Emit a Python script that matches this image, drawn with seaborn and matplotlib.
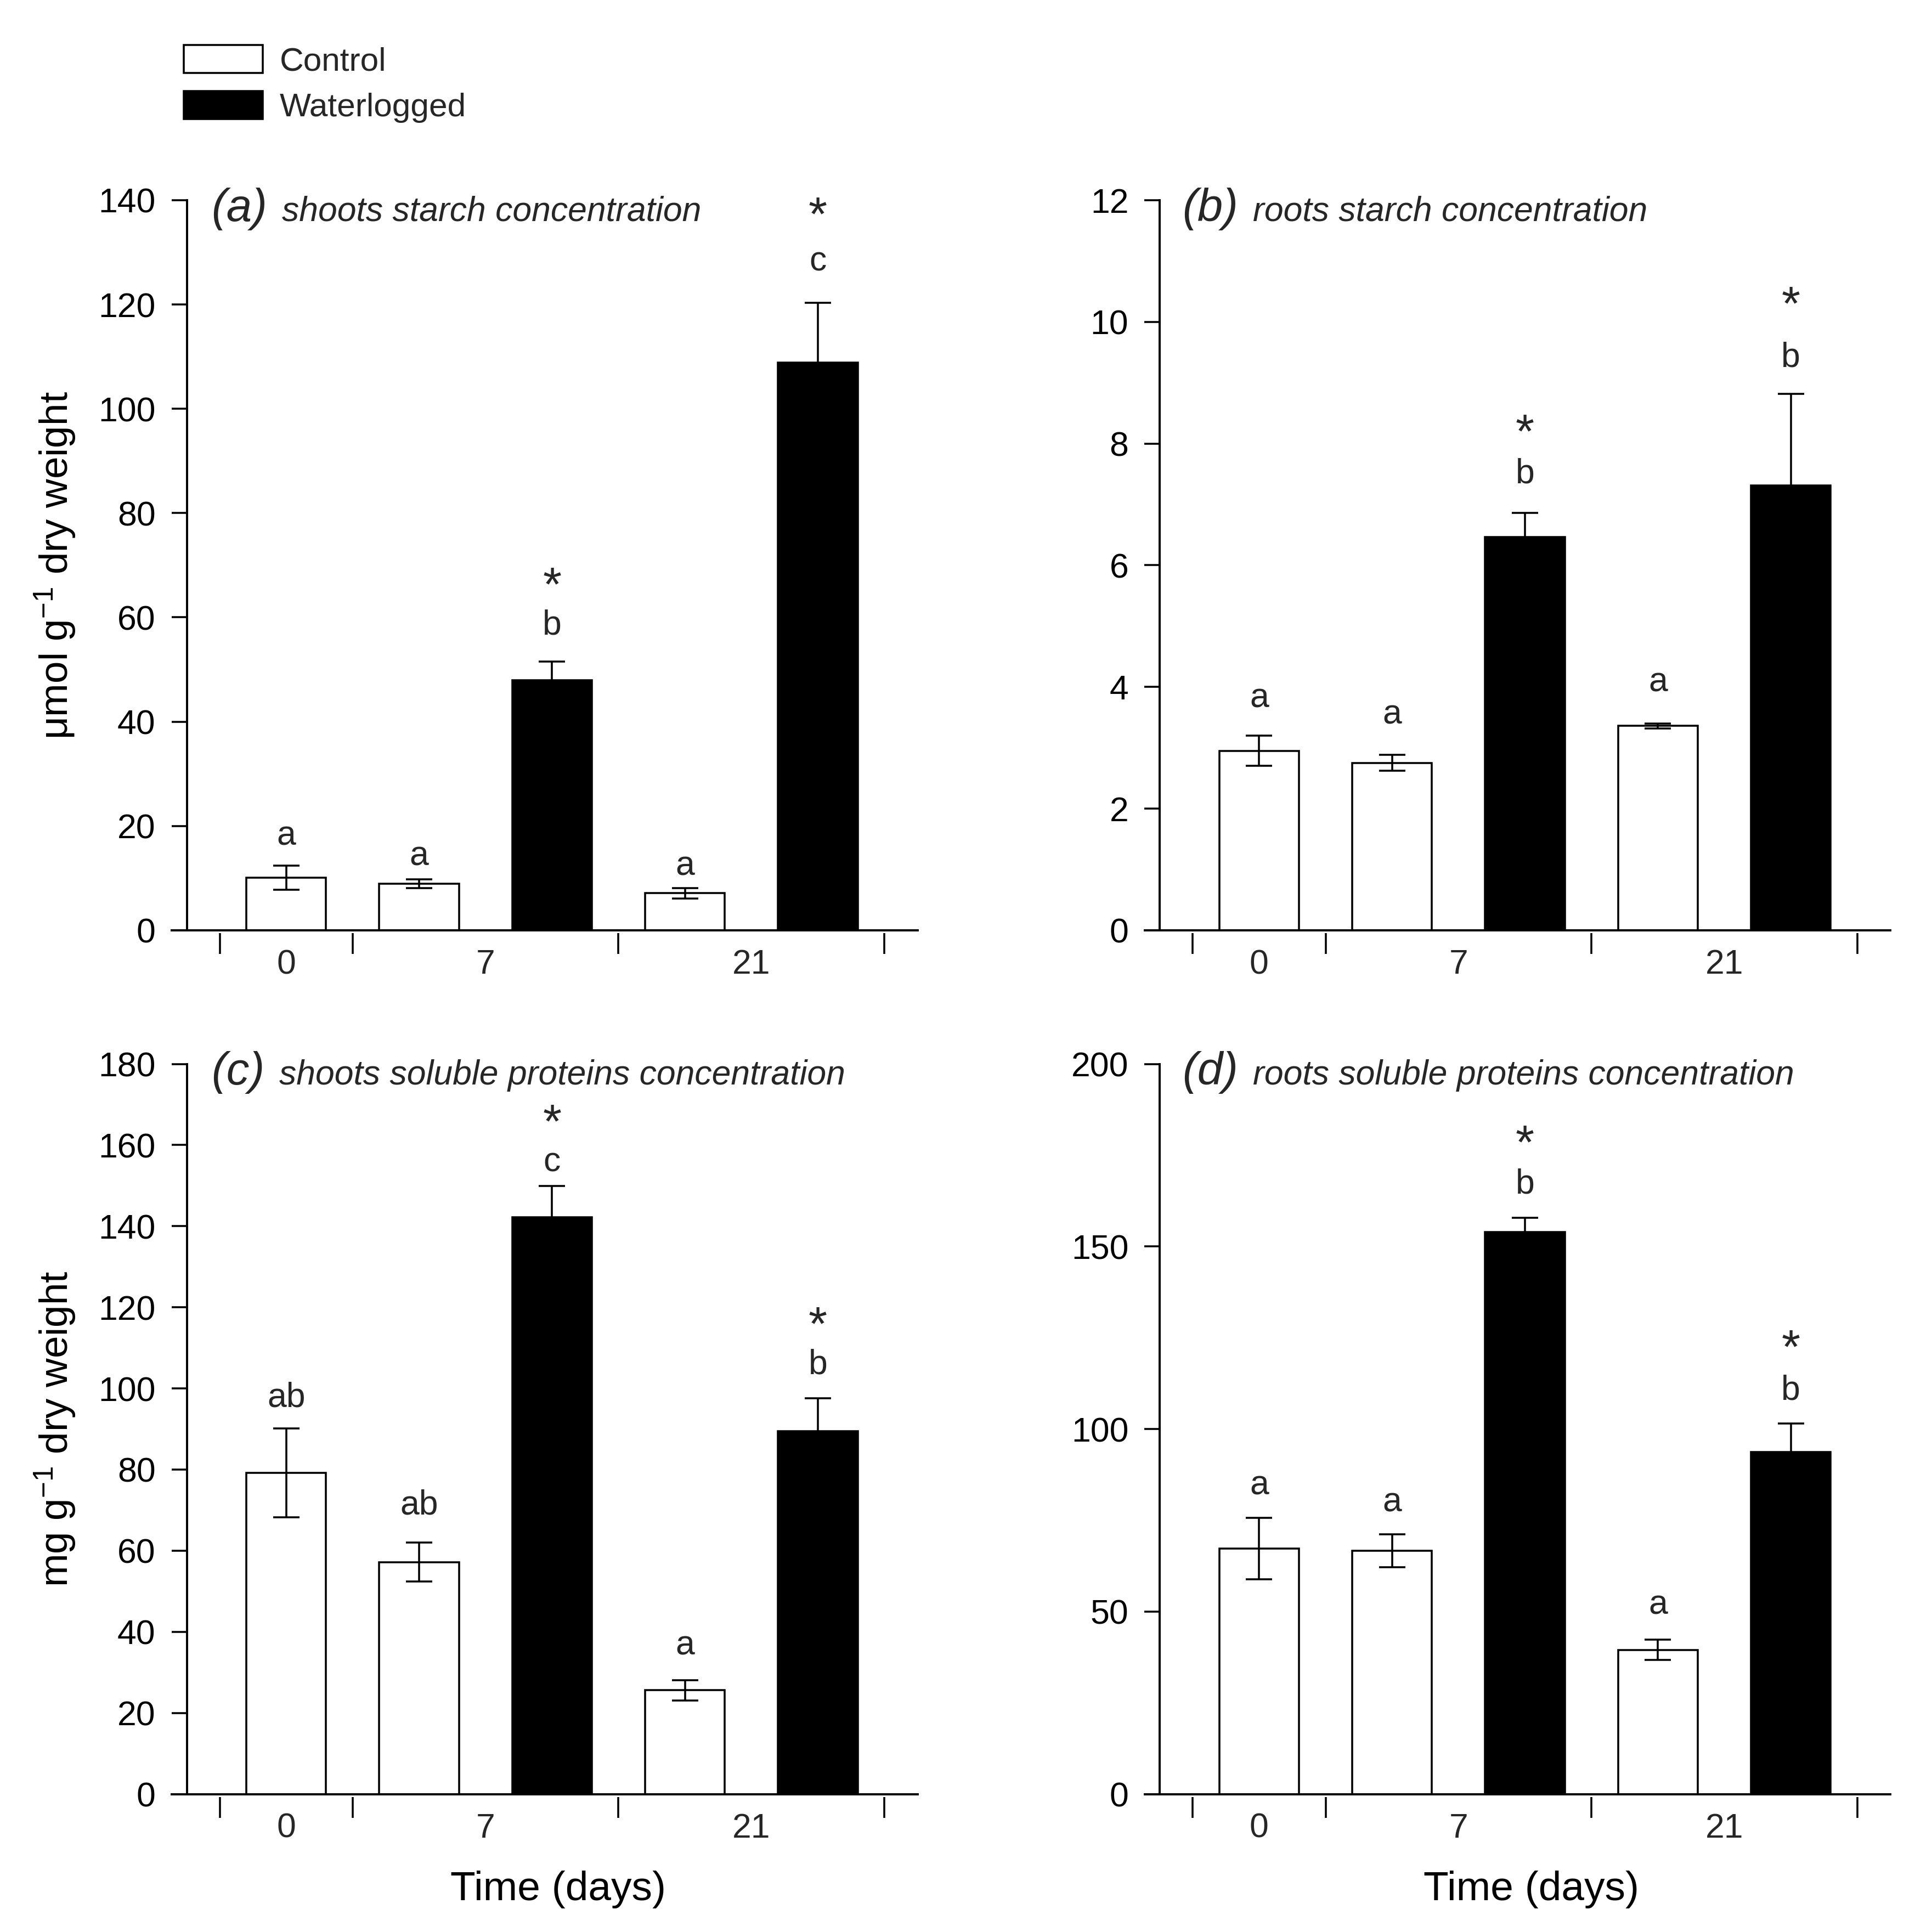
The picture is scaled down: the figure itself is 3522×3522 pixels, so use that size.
import numpy as np
import pandas as pd
import matplotlib
matplotlib.use("Agg")
import matplotlib.pyplot as plt
from matplotlib.patches import Patch
import seaborn as sns

# ---------------- data ----------------
days = ["0", "7", "7", "21", "21"]
treatments = ["Control", "Control", "Waterlogged", "Control", "Waterlogged"]
bar_ids = ["C0", "C7", "W7", "C21", "W21"]
stars = [False, False, True, False, True]

a_mean = [10.1, 8.9, 47.9, 7.1, 108.8]
a_err = [2.3, 0.85, 3.6, 1.0, 11.5]
a_letters = ["a", "a", "b", "a", "c"]

b_mean = [2.95, 2.75, 6.46, 3.36, 7.31]
b_err = [0.25, 0.13, 0.40, 0.04, 1.51]
b_letters = ["a", "a", "b", "a", "b"]

c_mean = [79.2, 57.2, 142.2, 25.6, 89.4]
c_err = [11.0, 4.8, 7.7, 2.5, 8.2]
c_letters = ["ab", "ab", "c", "a", "b"]

d_mean = [67.3, 66.6, 154.0, 39.5, 93.7]
d_err = [8.4, 4.5, 3.9, 2.8, 7.8]
d_letters = ["a", "a", "b", "a", "b"]

panel_tags = ["(a)", "(b)", "(c)", "(d)"]
panel_titles = ["shoots starch concentration", "roots starch concentration",
                "shoots soluble proteins concentration", "roots soluble proteins concentration"]
y_labels = ["\u03bcmol g$^{-1}$ dry weight", None, "mg g$^{-1}$ dry weight", None]
y_ticks = [np.arange(0, 141, 20), np.arange(0, 13, 2), np.arange(0, 181, 20), np.arange(0, 201, 50)]
x_label = "Time (days)"
legend_labels = ["Control", "Waterlogged"]

# ---------------- style ----------------
sns.set_theme(style="white")
plt.rcParams["font.family"] = ["Liberation Sans", "DejaVu Sans"]
plt.rcParams["mathtext.fontset"] = "custom"
plt.rcParams["mathtext.rm"] = "Liberation Sans"
plt.rcParams["mathtext.it"] = "Liberation Sans:italic"
plt.rcParams["mathtext.bf"] = "Liberation Sans:bold"
plt.rcParams["mathtext.default"] = "regular"

LW = 0.85
palette = {"Control": "white", "Waterlogged": "black"}

# style offsets (points) for significance letters / stars
letter_off = [[13, 10, 16.0, 9.5, 18], [16.3, 17.6, 17, 17.9, 15.7],
              [13.3, 16.3, 10.4, 15, 14.7], [14, 14, 14.6, 15.2, 14.4]]
star_off = [[0, 0, 32.2, 0, 37.2], [0, 0, 34.0, 0, 37.9],
            [0, 0, 26.6, 0, 31.0], [0, 0, 31.3, 0, 31.9]]

fig = plt.figure(figsize=(3522 / 300, 3522 / 300), dpi=300)

W = 0.386
H = 0.3779
rects = [[0.0889, 0.5185, W, H], [0.5925, 0.5185, W, H],
         [0.0889, 0.0714, W, H], [0.5925, 0.0714, W, H]]

means = [a_mean, b_mean, c_mean, d_mean]
errs = [a_err, b_err, c_err, d_err]
letters_all = [a_letters, b_letters, c_letters, d_letters]

XL = (-0.861, 4.75)
SPINE_X = -0.747

# group centres and boundaries from the day list
uniq_days = list(dict.fromkeys(days))
pos = np.arange(len(days))
centres = [pos[[d == u for d in days]].mean() for u in uniq_days]
bounds = [-0.5] + [i - 0.5 for i in range(1, len(days)) if days[i] != days[i - 1]] + [len(days) - 0.5]

for k in range(4):
    ax = fig.add_axes(rects[k])
    df = pd.DataFrame({"bar": bar_ids, "value": means[k], "treatment": treatments})
    sns.barplot(data=df, x="bar", y="value", hue="treatment", order=bar_ids,
                hue_order=legend_labels, palette=palette, dodge=False, width=0.6,
                saturation=1, edgecolor="black", linewidth=LW, errorbar=None,
                legend=False, ax=ax)
    ax.errorbar(pos, means[k], yerr=errs[k], fmt="none", ecolor="black",
                elinewidth=LW, capsize=5.7, capthick=LW, zorder=3)

    for i in range(5):
        top = means[k][i] + errs[k][i]
        ax.annotate(letters_all[k][i], xy=(i, top), xytext=(0, letter_off[k][i]),
                    textcoords="offset points", ha="center", va="center", fontsize=15)
        if stars[i]:
            ax.annotate("*", xy=(i, top), xytext=(0, star_off[k][i]),
                        textcoords="offset points", ha="center", va="center", fontsize=21)

    ax.set_xlim(*XL)
    ax.set_ylim(y_ticks[k][0], y_ticks[k][-1])
    ax.set_yticks(y_ticks[k])
    ax.set_xticks(centres)
    ax.set_xticklabels(uniq_days)
    ax.tick_params(axis="x", length=0, pad=8, labelsize=15, bottom=False)
    ax.tick_params(axis="y", direction="out", length=6.7, width=LW, pad=7,
                   labelsize=15, left=True, color="black", labelcolor="black")
    for s in ["top", "right"]:
        ax.spines[s].set_visible(False)
    for s in ["left", "bottom"]:
        ax.spines[s].set_color("black")
        ax.spines[s].set_linewidth(0.95)
    ax.spines["left"].set_position(("data", SPINE_X))
    ax.set_xlabel("")
    ax.set_ylabel("")

    sec = ax.secondary_xaxis(-0.004)
    sec.spines["bottom"].set_visible(False)
    sec.set_xticks(bounds)
    sec.tick_params(axis="x", bottom=True, direction="out", length=9, width=LW,
                    labelbottom=False, color="black")

    if y_labels[k]:
        ax.set_ylabel(y_labels[k], fontsize=17.5, color="black")
        ax.yaxis.set_label_coords(-0.126, 0.5)
    if k >= 2:
        ax.set_xlabel(x_label, fontsize=18, color="black")
        ax.xaxis.set_label_coords(0.518, -0.105)

    tag = ax.text(0.0526 if k % 2 == 0 else 0.050, 0.9715, panel_tags[k],
                  transform=ax.transAxes, fontsize=20, style="italic",
                  ha="left", va="baseline")
    ax.annotate(panel_titles[k], xy=(1, 0), xycoords=tag, xytext=(6.5, 1),
                textcoords="offset points", fontsize=15, style="italic",
                ha="left", va="bottom")

handles = [Patch(facecolor=palette[t], edgecolor="black", linewidth=LW, label=t)
           for t in legend_labels]
fig.legend(handles=handles, loc="upper left", bbox_to_anchor=(0.0951, 0.9767),
           frameon=False, fontsize=14.5, handlelength=2.39, handleheight=0.91,
           handletextpad=0.5, labelspacing=0.43, borderpad=0, borderaxespad=0)

fig.savefig("out.png", dpi=300, facecolor="white")
